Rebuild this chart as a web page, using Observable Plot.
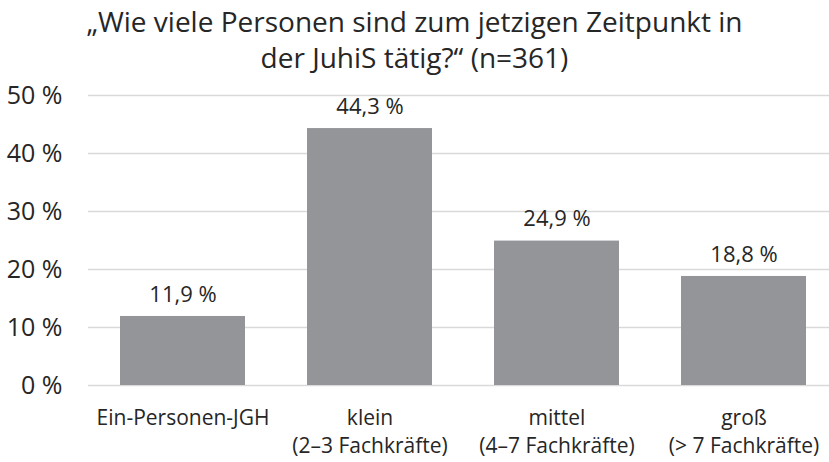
<!DOCTYPE html>
<html><head><meta charset="utf-8">
<script src="https://cdn.jsdelivr.net/npm/d3@7"></script>
<script src="https://cdn.jsdelivr.net/npm/@observablehq/plot@0.6"></script>
<style>
body{margin:0;background:#fff;font-family:"Open Sans",sans-serif;color:#262626;}
#title{height:78px;width:829px;box-sizing:border-box;padding-top:3px;text-align:center;font-size:28px;}
#title div{line-height:36px;height:36px;}
</style></head>
<body>
<div id="title"><div>„Wie viele Personen sind zum jetzigen Zeitpunkt in</div><div>der JuhiS tätig?“ (n=361)</div></div>
<div id="chart"></div>
<script>
const categories = ["Ein-Personen-JGH", "klein\n(2–3 Fachkräfte)", "mittel\n(4–7 Fachkräfte)", "groß\n(> 7 Fachkräfte)"];
const values = [11.9, 44.3, 24.9, 18.8];
const labels = ["11,9 %", "44,3 %", "24,9 %", "18,8 %"];
const yTicks = [0, 10, 20, 30, 40, 50];

const data = categories.map((c, i) => ({cat: c, value: values[i], label: labels[i]}));

const chart = Plot.plot({
  width: 829,
  height: 384,
  marginLeft: 88,
  marginRight: 0,
  marginTop: 17,
  marginBottom: 77,
  style: {fontFamily: "Open Sans, sans-serif", color: "#262626", background: "#fff"},
  x: {domain: categories, range: [88, 838], paddingInner: 0.333, paddingOuter: 0.1667, label: null},
  y: {domain: [0, 50], label: null},
  marks: [
    Plot.gridY(yTicks, {stroke: "#d9d9d9", strokeOpacity: 1, strokeWidth: 1.5}),
    Plot.barY(data, {x: "cat", y: "value", fill: "#939598"}),
    Plot.text(data, {x: "cat", y: "value", text: "label", dy: -22, fontSize: 22, fill: "#262626"}),
    Plot.axisY(yTicks, {tickSize: 0, tickPadding: 26, fontSize: 25, tickFormat: d => d + " %", fill: "#262626"}),
    Plot.axisX({tickSize: 0, tickPadding: 20, fontSize: 21, lineHeight: 1.33, fill: "#262626"})
  ]
});
document.getElementById("chart").appendChild(chart);
</script>
</body></html>
